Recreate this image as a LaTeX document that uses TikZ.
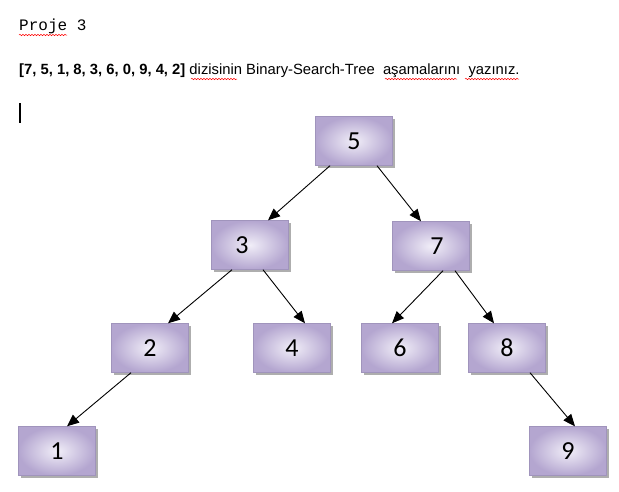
\documentclass[tikz,border=0pt]{standalone}
\usepackage{fontspec}
\setmainfont{Liberation Sans}
\newfontfamily\monofont{Liberation Mono}
\newfontfamily\numfont{Carlito}
\usepackage{tikz}
\usetikzlibrary{arrows.meta, shadows, decorations.pathmorphing}
\definecolor{boxlight}{RGB}{241,238,248}
\definecolor{boxdark}{RGB}{180,166,208}
\definecolor{boxline}{RGB}{160,148,188}

\begin{document}
\begin{tikzpicture}[
    x=1pt, y=-1pt,
    box/.style={draw=boxline, line width=0.4pt, minimum width=77pt, minimum height=49pt, inner sep=0pt, font=\numfont\fontsize{26}{26}\selectfont, shading=radial, inner color=boxlight, outer color=boxdark, drop shadow={shadow xshift=2.5pt, shadow yshift=-2.5pt, fill=black!45, opacity=0.7}},
    arr/.style={-{Triangle[length=12pt, width=10pt]}, line width=0.9pt},
    wavy/.style={red, line width=0.5pt, decorate, decoration={snake, amplitude=0.7pt, segment length=3pt}},
]
\fill[white] (0,0) rectangle (619,491);
\useasboundingbox (0,0) rectangle (619,491);

% Heading
\node[anchor=base west, inner sep=0pt, font=\monofont\fontsize{16}{16}\selectfont] (title) at (19,30) {Proje 3};
\node[anchor=base west, inner sep=0pt, font=\fontsize{14.8}{14.8}\selectfont] (task) at (19,74) {\textbf{[7, 5, 1, 8, 3, 6, 0, 9, 4, 2]} dizisinin Binary-Search-Tree\ \ aşamalarını\ \ yazınız.};
\draw[wavy] (19,35) -- (67,35);
\draw[wavy] (191,79) -- (237,79);
\draw[wavy] (385,79) -- (457,79);
\draw[wavy] (465,79) -- (519,79);
\draw[line width=1.5pt] (20,103) -- (20,123);

% Tree nodes
\node[box] (n5) at (354,141) {5};
\node[box] (n3) at (250,245) {\hspace*{-16pt}3};
\node[box] (n7) at (431,246) {\hspace*{12pt}7};
\node[box] (n2) at (150,348) {2};
\node[box] (n4) at (292,348) {4};
\node[box] (n6) at (400,348) {6};
\node[box] (n8) at (507,348) {8};
\node[box] (n1) at (57,451) {1};
\node[box] (n9) at (568,451) {9};

% Edges
\draw[arr] ([xshift=-24pt]n5.south) -- ([xshift=18pt]n3.north);
\draw[arr] ([xshift=23pt]n5.south) -- ([xshift=-10pt]n7.north);
\draw[arr] ([xshift=-18pt]n3.south) -- ([xshift=18pt]n2.north);
\draw[arr] ([xshift=13pt]n3.south) -- ([xshift=13pt]n4.north);
\draw[arr] ([xshift=12pt]n7.south) -- ([xshift=-8pt]n6.north);
\draw[arr] ([xshift=24pt]n7.south) -- ([xshift=-13pt]n8.north);
\draw[arr] ([xshift=-19pt]n2.south) -- ([xshift=10pt]n1.north);
\draw[arr] ([xshift=23pt]n8.south) -- ([xshift=7pt]n9.north);
\end{tikzpicture}
\end{document}
